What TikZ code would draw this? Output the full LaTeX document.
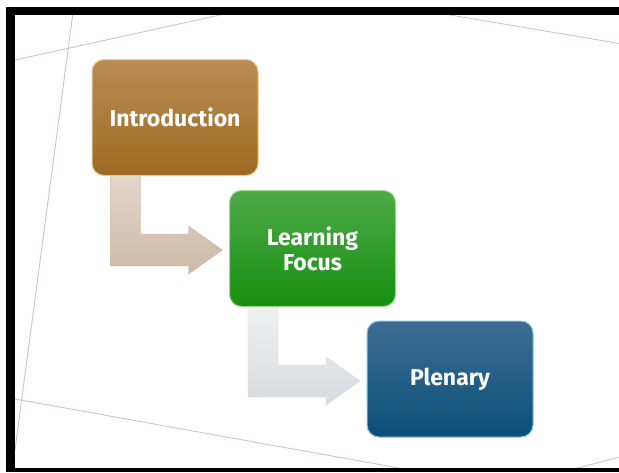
\documentclass[tikz,border=0pt]{standalone}
\usepackage{fontspec}
\setmainfont{Fira Sans}
\usetikzlibrary{calc}

\definecolor{frameline}{HTML}{D3C4C8}
\definecolor{introtop}{HTML}{BA8C55}
\definecolor{introbot}{HTML}{9E6A22}
\definecolor{introrim}{HTML}{EBCB8E}
\definecolor{focustop}{HTML}{4EA948}
\definecolor{focusbot}{HTML}{168F10}
\definecolor{focusrim}{HTML}{9AD98C}
\definecolor{plenarytop}{HTML}{3D6D94}
\definecolor{plenarybot}{HTML}{0A4F78}
\definecolor{plenaryrim}{HTML}{8CC3E0}
\definecolor{tantop}{HTML}{E2D6CA}
\definecolor{tanbot}{HTML}{CDB9A6}
\definecolor{greytop}{HTML}{EEF0F2}
\definecolor{greybot}{HTML}{D8DBDE}

\begin{document}
\begin{tikzpicture}[x=1pt,y=-1pt,
  stage/.style={rounded corners=12pt, minimum width=166pt, minimum height=116pt,
    text=white, align=center, line width=1pt,
    font=\fontsize{23}{25}\selectfont\bfseries}]
\useasboundingbox (0,0) rectangle (619,472);
\fill[white] (0,0) rectangle (619,472);

% thin lines in the background
\begin{scope}
\clip (15,15) rectangle (619,468);
\draw[frameline, line width=0.9pt] (0,63.3)--(230,12.8);
\draw[frameline, line width=0.9pt] (74,5)--(15,450);
\draw[frameline, line width=0.9pt] (440,13.3)--(630,45.3);
\draw[frameline, line width=0.9pt] (5,397.2)--(410,470);
\draw[frameline, line width=0.9pt] (570,470)--(630,454.3);
\end{scope}

% black frame
\fill[black] (6,7) rectangle (619,15);
\fill[black] (6,7) rectangle (15,472);
\fill[black] (6,468) rectangle (619,472);

% the three stages
\node[stage, top color=introtop, bottom color=introbot, draw=introrim] (intro) at (175,117.5) {Introduction};
\node[stage, top color=focustop, bottom color=focusbot, draw=focusrim] (focus) at (312.5,248.5) {Learning\\Focus};
\node[stage, top color=plenarytop, bottom color=plenarybot, draw=plenaryrim] (plenary) at (450,379) {Plenary};

% bent arrows from one stage to the next
\foreach \from/\col in {intro/tan, focus/grey}
  \shade[top color=\col top, bottom color=\col bot, draw=\col bot, line width=0.4pt]
    ($(\from.south west)+(19,0.5)$) -- ++(30,0) -- ++(0,57.5) -- ++(48,0)
    -- ++(0,-8) -- ++(34,24) -- ++(-34,24) -- ++(0,-8) -- ++(-78,0) -- cycle;
\end{tikzpicture}
\end{document}
